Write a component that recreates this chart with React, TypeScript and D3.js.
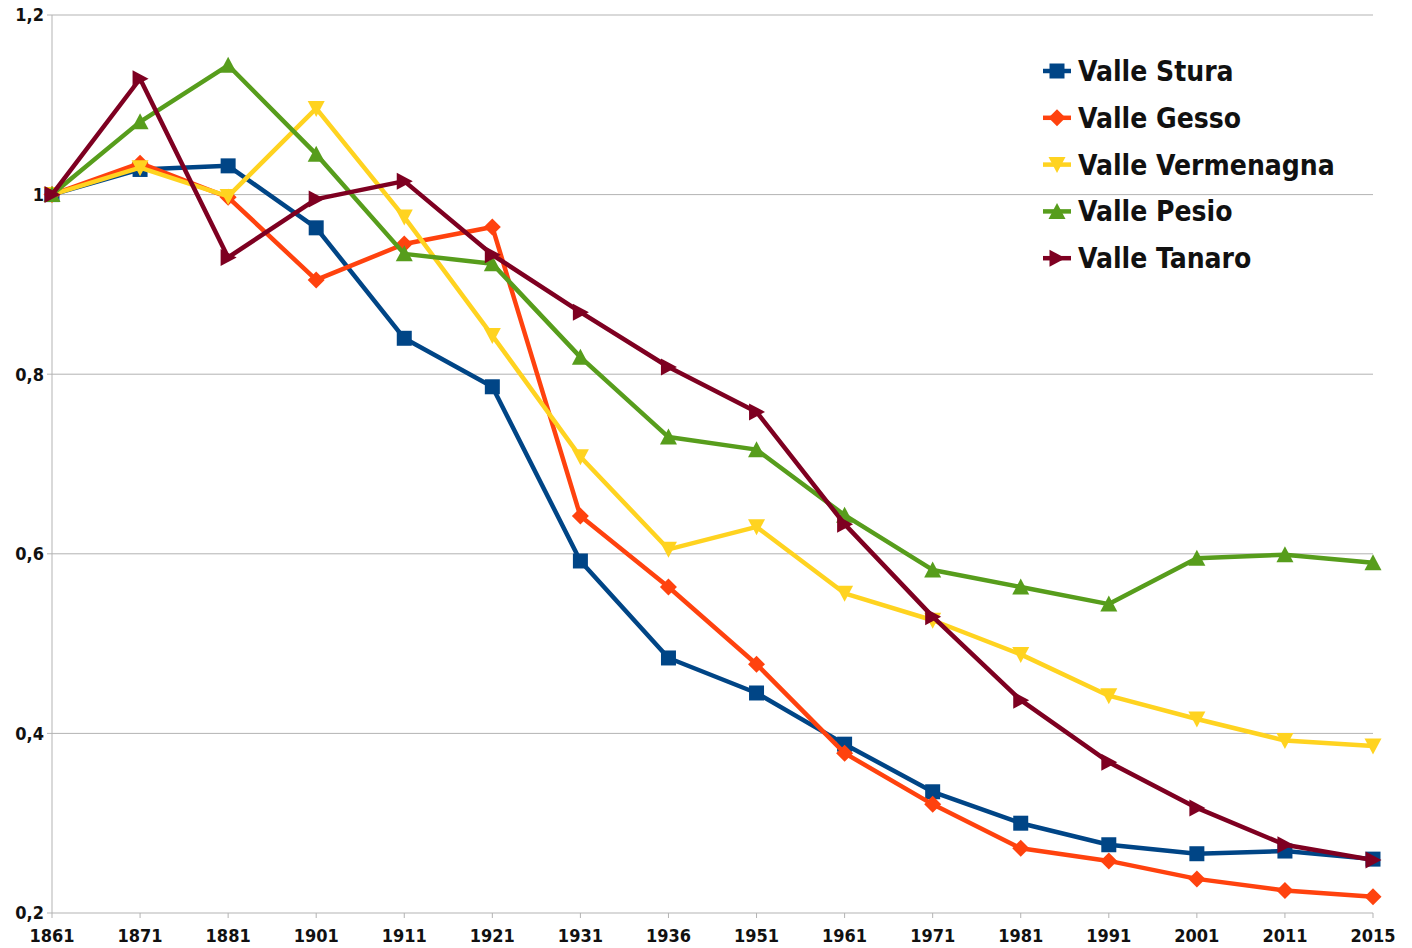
import React from "react";
import * as d3 from "d3";

const years = ["1861","1871","1881","1901","1911","1921","1931","1936","1951","1961","1971","1981","1991","2001","2011","2015"];
const stura = [1.0,1.028,1.032,0.963,0.840,0.786,0.592,0.484,0.445,0.388,0.335,0.300,0.276,0.266,0.269,0.260];
const gesso = [1.0,1.035,0.997,0.905,0.945,0.964,0.642,0.563,0.477,0.378,0.321,0.272,0.258,0.238,0.225,0.218];
const vermenagna = [1.0,1.030,0.998,1.096,0.975,0.843,0.708,0.605,0.630,0.556,0.526,0.488,0.442,0.416,0.392,0.386];
const pesio = [1.0,1.081,1.144,1.045,0.934,0.923,0.819,0.730,0.716,0.643,0.582,0.563,0.544,0.595,0.599,0.590];
const tanaro = [1.0,1.129,0.930,0.995,1.015,0.933,0.869,0.808,0.758,0.633,0.530,0.437,0.368,0.317,0.276,0.259];
const yTicks = [0.2,0.4,0.6,0.8,1.0,1.2];

const series = [
  { name: "Valle Stura", values: stura, color: "#004586", marker: "square" },
  { name: "Valle Gesso", values: gesso, color: "#ff420e", marker: "diamond" },
  { name: "Valle Vermenagna", values: vermenagna, color: "#ffd320", marker: "down" },
  { name: "Valle Pesio", values: pesio, color: "#579d1c", marker: "up" },
  { name: "Valle Tanaro", values: tanaro, color: "#7e0021", marker: "right" },
];

const FONT = "'DejaVu Sans Condensed', 'DejaVu Sans', sans-serif";

function markerPath(type: string, s: number) {
  const h = s / 2;
  switch (type) {
    case "square": return `M${-h},${-h}H${h}V${h}H${-h}Z`;
    case "diamond": return `M0,${-h - 1}L${h + 1},0L0,${h + 1}L${-h - 1},0Z`;
    case "down": return `M${-h - 1},${-h}L${h + 1},${-h}L0,${h + 1}Z`;
    case "up": return `M${-h - 1},${h}L${h + 1},${h}L0,${-h - 1}Z`;
    case "right": return `M${-h},${-h - 1}L${h + 1},0L${-h},${h + 1}Z`;
  }
  return "";
}

export default function App() {
  const W = 1412, H = 948;
  const left = 52, right = 1373, top = 15, bottom = 913;
  const x = d3.scalePoint<string>().domain(years).range([left, right]);
  const y = d3.scaleLinear().domain([0.2, 1.2]).range([bottom, top]);
  const line = d3.line<number>().x((_, i) => x(years[i]) as number).y((d) => y(d));

  return (
    <svg width={W} height={H} style={{ position: "absolute", left: 0, top: 0, background: "#fff" }}>
      {yTicks.map((t) => (
        <g key={t}>
          <line x1={left - 5} x2={right} y1={y(t)} y2={y(t)} stroke="#b3b3b3" strokeWidth={1} />
          <text x={left - 8} y={y(t)} dy="0.35em" textAnchor="end" fontFamily={FONT} fontWeight="bold" fontSize={18} fill="#111">
            {d3.format(".1f")(t).replace(".0", "").replace(".", ",")}
          </text>
        </g>
      ))}
      <line x1={left} x2={left} y1={top} y2={bottom} stroke="#b3b3b3" strokeWidth={1} />
      {years.map((yr) => (
        <g key={yr}>
          <line x1={x(yr)} x2={x(yr)} y1={bottom} y2={bottom + 5} stroke="#b3b3b3" strokeWidth={1} />
          <text x={x(yr)} y={936} dy="0.35em" textAnchor="middle" fontFamily={FONT} fontWeight="bold" fontSize={18} fill="#111">
            {yr}
          </text>
        </g>
      ))}
      {series.map((s) => (
        <g key={s.name}>
          <path d={line(s.values) || ""} fill="none" stroke={s.color} strokeWidth={4.5} strokeLinejoin="round" />
          {s.values.map((v, i) => (
            <path key={i} d={markerPath(s.marker, 15)} transform={`translate(${x(years[i])},${y(v)})`} fill={s.color} />
          ))}
        </g>
      ))}
      {series.map((s, i) => {
        const ly = 71 + i * 46.8;
        return (
          <g key={"lg" + s.name}>
            <line x1={1043} x2={1071} y1={ly} y2={ly} stroke={s.color} strokeWidth={4.5} />
            <path d={markerPath(s.marker, 15)} transform={`translate(1057,${ly})`} fill={s.color} />
            <text x={1078} y={ly} dy="0.36em" fontFamily={FONT} fontWeight="bold" fontSize={28} fill="#111">
              {s.name}
            </text>
          </g>
        );
      })}
    </svg>
  );
}
